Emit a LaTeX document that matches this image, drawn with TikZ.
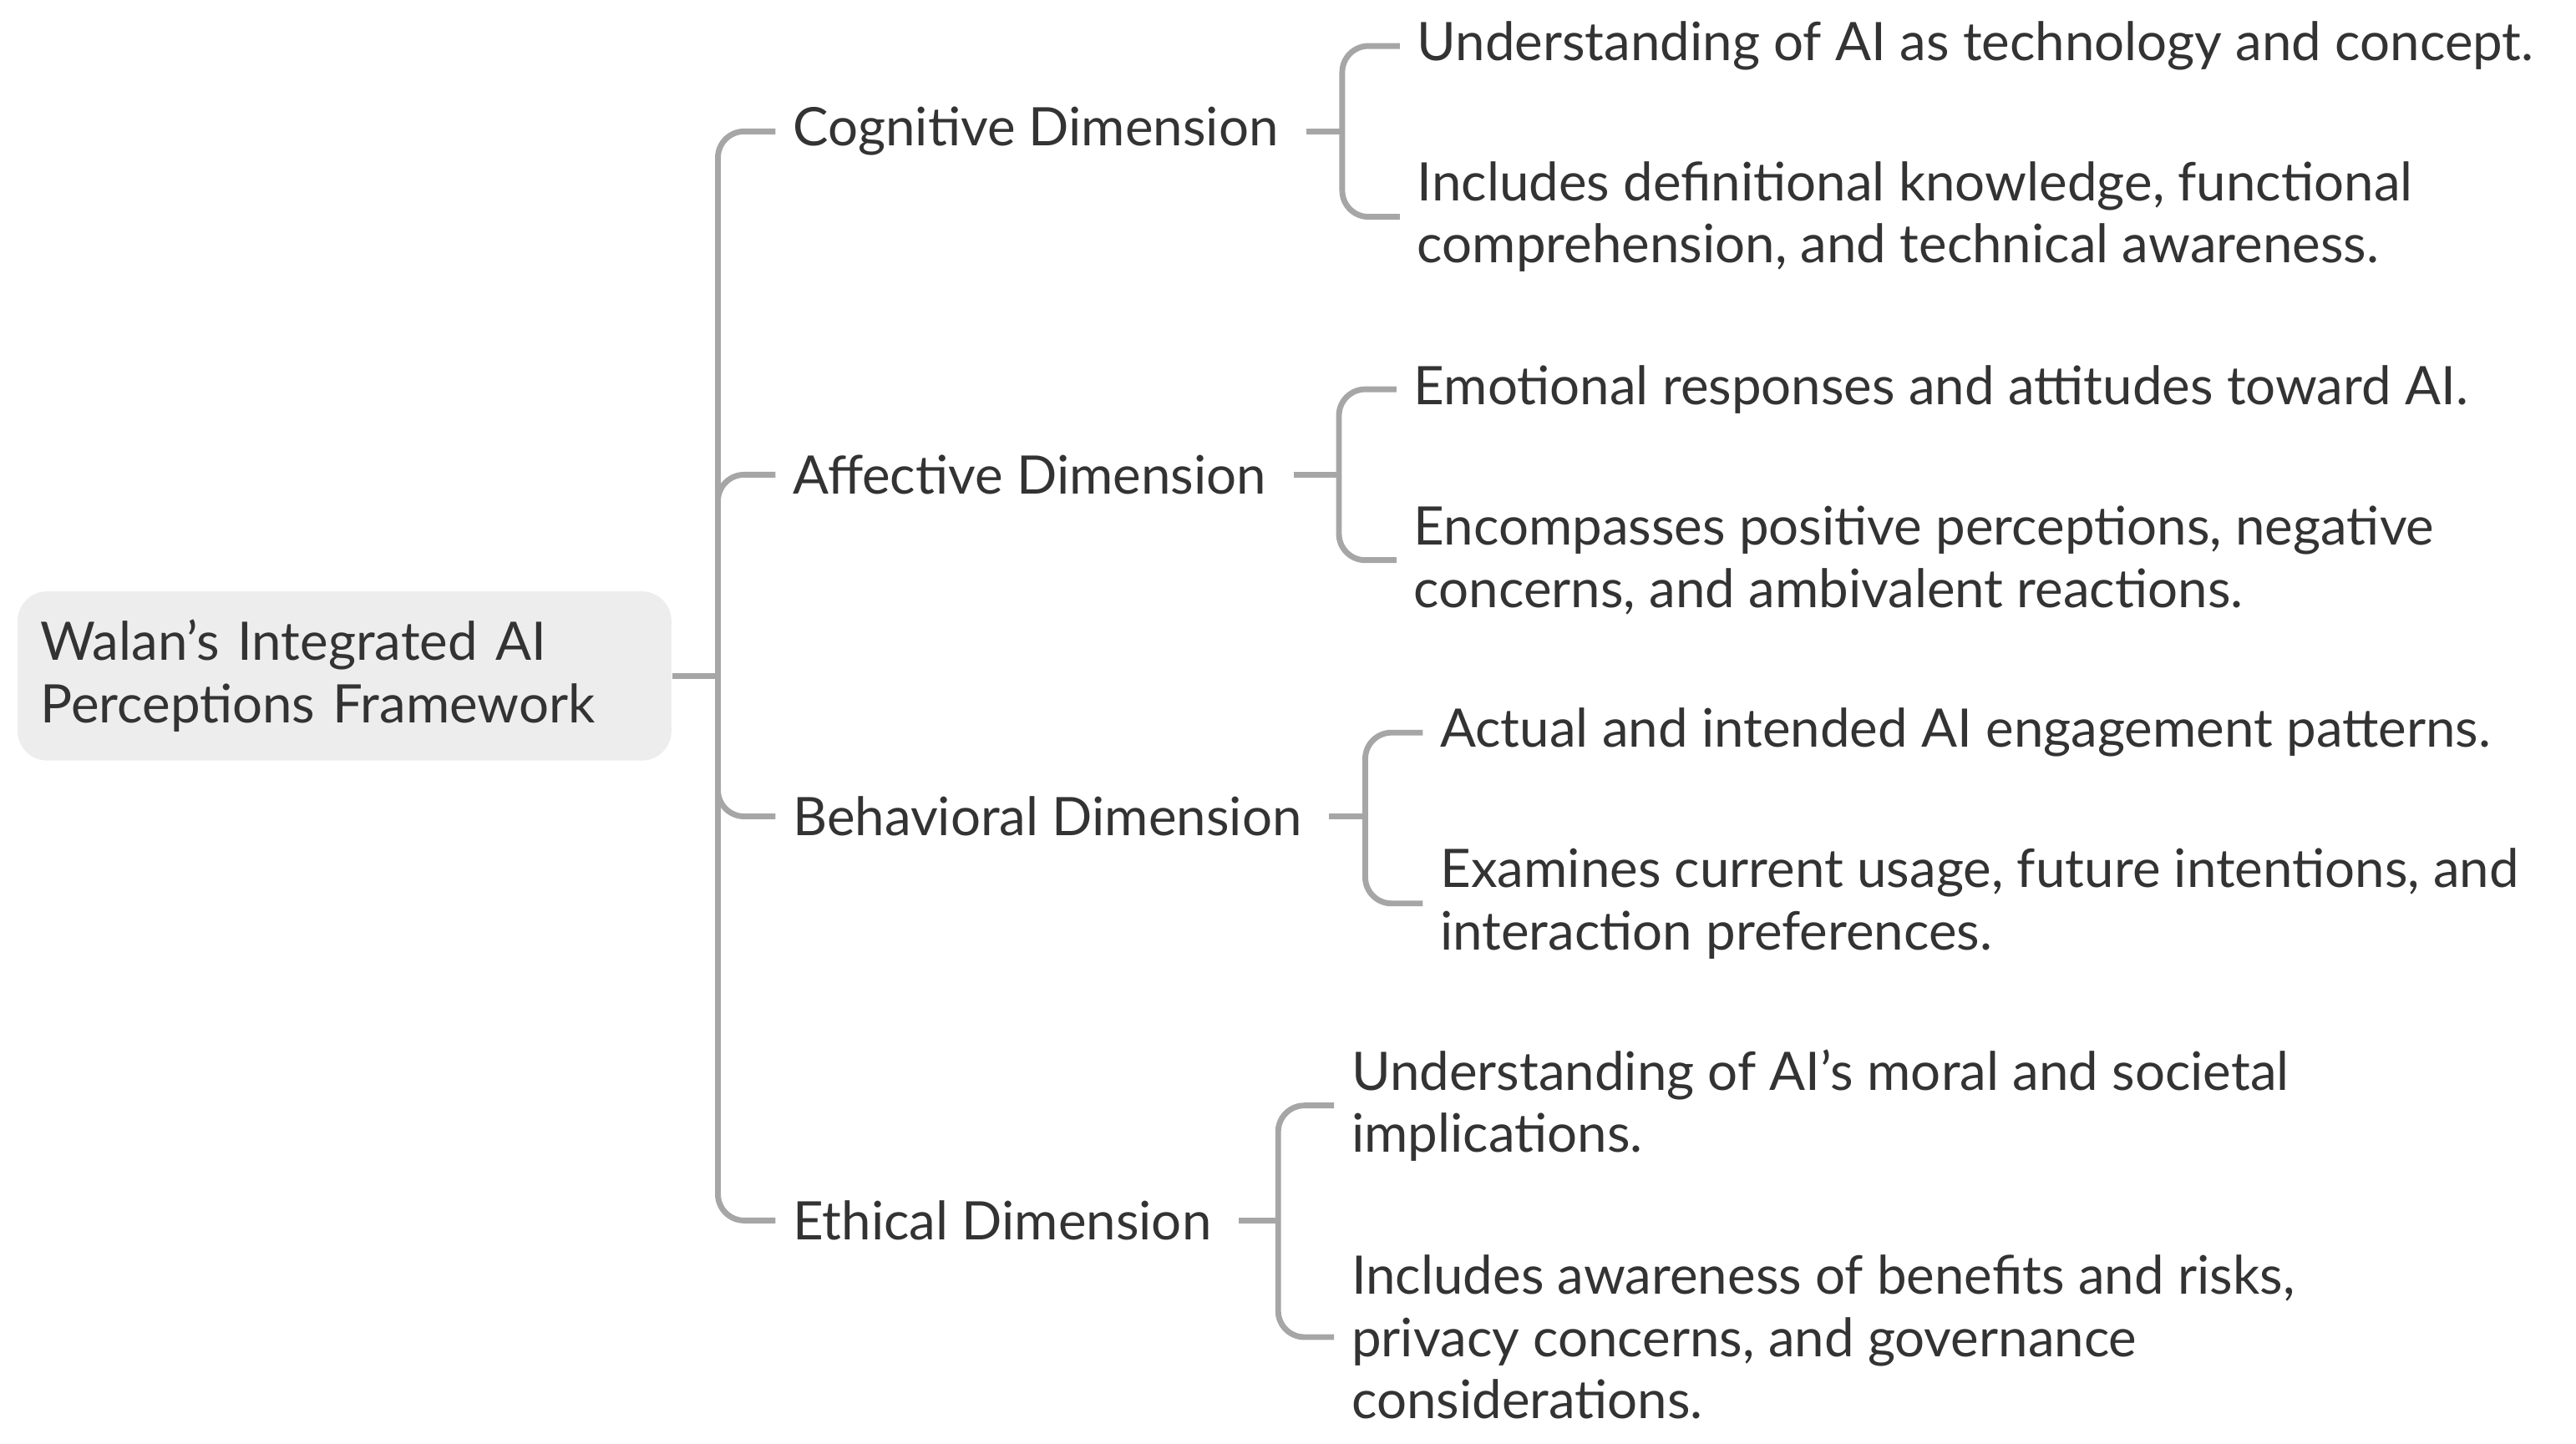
\documentclass[tikz,border=0pt]{standalone}
\usepackage{fontspec}
\setmainfont{Lato}
\begin{document}
\begin{tikzpicture}[
  br/.style={draw=black!35, line width=1pt, rounded corners=0.16cm},
  dim/.style={anchor=west, inner xsep=0.1cm, inner ysep=0, font=\fontsize{9.2}{10.8}\selectfont, text=black!80},
  leaf/.style={anchor=west, inner xsep=0.1cm, inner ysep=0, align=left, font=\fontsize{9.2}{10.8}\selectfont, text=black!80},
]
\useasboundingbox (0,0) rectangle (15.68,-8.786);
\node[fill=black!7, rounded corners=0.18cm, minimum width=3.98cm, minimum height=1.03cm, anchor=west, align=left, text width=3.7cm, font=\fontsize{9.2}{10.8}\selectfont, text=black!80] (root) at (0.10,-4.115) {Walan’s Integrated AI\\Perceptions Framework};
\coordinate (tj) at (4.37,-4.115);

\node[dim] (cog) at (4.72,-0.80) {Cognitive Dimension};
\node[dim] (aff) at (4.72,-2.89) {Affective Dimension};
\node[dim] (beh) at (4.72,-4.97) {Behavioral Dimension};
\node[dim] (eth) at (4.72,-7.43) {Ethical Dimension};

\draw[br] (root.east) -- (tj);
\draw[br] (cog.west) -| (tj) |- (eth.west);
\draw[br] (tj) |- (aff.west);
\draw[br] (tj) |- (beh.west);

% Cognitive
\coordinate (cj) at (8.17,-0.80);
\node[leaf] (c1) at (8.52,-0.28) {Understanding of AI as technology and concept.};
\node[leaf] (c2) at (8.52,-1.32) {Includes definitional knowledge, functional\\comprehension, and technical awareness.};
\draw[br] ([xshift=0.06cm]cog.east) -- (cj);
\draw[br] (c1.west) -| (cj) |- (c2.west);

% Affective
\coordinate (aj) at (8.15,-2.89);
\node[leaf] (a1) at (8.50,-2.37) {Emotional responses and attitudes toward AI.};
\node[leaf] (a2) at (8.50,-3.41) {Encompasses positive perceptions, negative\\concerns, and ambivalent reactions.};
\draw[br] ([xshift=0.06cm]aff.east) -- (aj);
\draw[br] (a1.west) -| (aj) |- (a2.west);

% Behavioral
\coordinate (bj) at (8.31,-4.97);
\node[leaf] (b1) at (8.66,-4.46) {Actual and intended AI engagement patterns.};
\node[leaf] (b2) at (8.66,-5.50) {Examines current usage, future intentions, and\\interaction preferences.};
\draw[br] ([xshift=0.06cm]beh.east) -- (bj);
\draw[br] (b1.west) -| (bj) |- (b2.west);

% Ethical
\coordinate (ej) at (7.78,-7.43);
\node[leaf] (e1) at (8.12,-6.73) {Understanding of AI’s moral and societal\\implications.};
\node[leaf] (e2) at (8.12,-8.14) {Includes awareness of benefits and risks,\\privacy concerns, and governance\\considerations.};
\draw[br] ([xshift=0.06cm]eth.east) -- (ej);
\draw[br] (e1.west) -| (ej) |- (e2.west);
\end{tikzpicture}
\end{document}
